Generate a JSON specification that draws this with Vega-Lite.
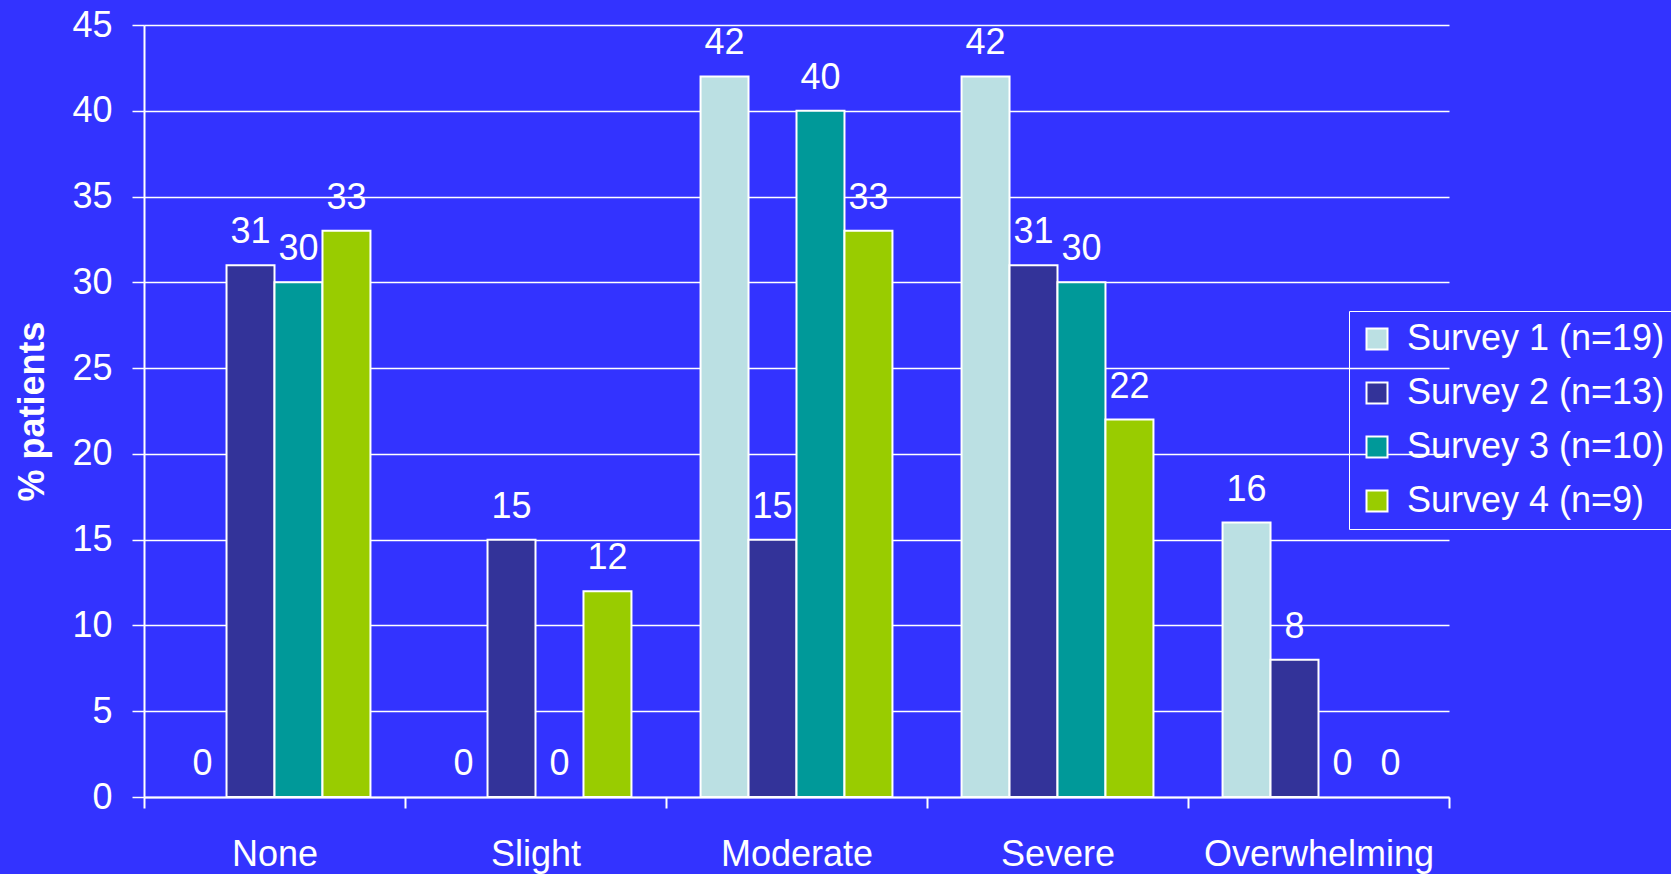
{
  "$schema": "https://vega.github.io/schema/vega-lite/v6.json",
  "width": 1305,
  "height": 772,
  "autosize": {"type": "none"},
  "padding": {"left": 144, "top": 25, "right": 222, "bottom": 77},
  "background": "#3333FF",
  "data": {
    "values": [
      {"level": "None", "survey": "Survey 1 (n=19)", "pct": 0},
      {"level": "None", "survey": "Survey 2 (n=13)", "pct": 31},
      {"level": "None", "survey": "Survey 3 (n=10)", "pct": 30},
      {"level": "None", "survey": "Survey 4 (n=9)", "pct": 33},
      {"level": "Slight", "survey": "Survey 1 (n=19)", "pct": 0},
      {"level": "Slight", "survey": "Survey 2 (n=13)", "pct": 15},
      {"level": "Slight", "survey": "Survey 3 (n=10)", "pct": 0},
      {"level": "Slight", "survey": "Survey 4 (n=9)", "pct": 12},
      {"level": "Moderate", "survey": "Survey 1 (n=19)", "pct": 42},
      {"level": "Moderate", "survey": "Survey 2 (n=13)", "pct": 15},
      {"level": "Moderate", "survey": "Survey 3 (n=10)", "pct": 40},
      {"level": "Moderate", "survey": "Survey 4 (n=9)", "pct": 33},
      {"level": "Severe", "survey": "Survey 1 (n=19)", "pct": 42},
      {"level": "Severe", "survey": "Survey 2 (n=13)", "pct": 31},
      {"level": "Severe", "survey": "Survey 3 (n=10)", "pct": 30},
      {"level": "Severe", "survey": "Survey 4 (n=9)", "pct": 22},
      {"level": "Overwhelming", "survey": "Survey 1 (n=19)", "pct": 16},
      {"level": "Overwhelming", "survey": "Survey 2 (n=13)", "pct": 8},
      {"level": "Overwhelming", "survey": "Survey 3 (n=10)", "pct": 0},
      {"level": "Overwhelming", "survey": "Survey 4 (n=9)", "pct": 0}
    ]
  },
  "encoding": {
    "x": {
      "field": "level",
      "type": "nominal",
      "sort": ["None", "Slight", "Moderate", "Severe", "Overwhelming"],
      "scale": {"paddingInner": 0, "paddingOuter": 0},
      "axis": {
        "title": null,
        "labelAngle": 0,
        "tickBand": "extent",
        "tickSize": 11,
        "tickColor": "white",
        "tickWidth": 2,
        "domainColor": "white",
        "domainWidth": 2,
        "labelColor": "white",
        "labelFont": "Liberation Sans",
        "labelFontSize": 36,
        "labelPadding": 29,
        "labelLimit": 600,
        "grid": false
      }
    },
    "xOffset": {
      "field": "survey",
      "type": "nominal",
      "scale": {"paddingOuter": 0.72, "paddingInner": 0}
    },
    "y": {
      "field": "pct",
      "type": "quantitative",
      "scale": {"domain": [0, 45]},
      "axis": {
        "title": "% patients",
        "titleColor": "white",
        "titleFont": "Liberation Sans",
        "titleFontSize": 36,
        "titleFontWeight": "bold",
        "titlePadding": 20,
        "values": [0, 5, 10, 15, 20, 25, 30, 35, 40, 45],
        "tickSize": 12,
        "tickColor": "white",
        "tickWidth": 1.5,
        "domainColor": "white",
        "domainWidth": 2,
        "grid": true,
        "gridColor": "white",
        "gridWidth": 1.5,
        "gridOpacity": 1,
        "labelColor": "white",
        "labelFont": "Liberation Sans",
        "labelFontSize": 36,
        "labelPadding": 20
      }
    }
  },
  "layer": [
    {
      "transform": [{"filter": "datum.pct > 0"}],
      "mark": {"type": "bar", "stroke": "white", "strokeWidth": 2},
      "encoding": {
        "color": {
          "field": "survey",
          "type": "nominal",
          "scale": {
            "domain": ["Survey 1 (n=19)", "Survey 2 (n=13)", "Survey 3 (n=10)", "Survey 4 (n=9)"],
            "range": ["#BBE0E3", "#333399", "#009999", "#99CC00"]
          },
          "legend": {
            "title": null,
            "orient": "none",
            "legendX": 1205,
            "legendY": 286,
            "symbolType": "square",
            "symbolSize": 441,
            "symbolStrokeColor": "white",
            "symbolStrokeWidth": 2,
            "symbolOpacity": 1,
            "labelColor": "white",
            "labelFont": "Liberation Sans",
            "labelFontSize": 36,
            "labelLimit": 500,
            "labelOffset": 12,
            "rowPadding": 18,
            "strokeColor": "white",
            "padding": 10
          }
        }
      }
    },
    {
      "mark": {
        "type": "text",
        "baseline": "bottom",
        "dy": -14,
        "color": "white",
        "font": "Liberation Sans",
        "fontSize": 36
      },
      "encoding": {"text": {"field": "pct", "type": "quantitative"}}
    }
  ],
  "config": {"view": {"stroke": null}}
}
